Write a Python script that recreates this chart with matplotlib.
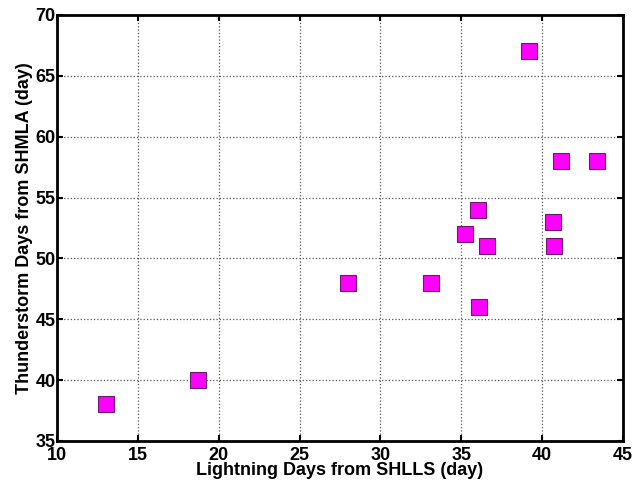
import matplotlib
matplotlib.use("Agg")
import matplotlib.pyplot as plt

# Lightning days (SHLLS) vs thunderstorm days (SHMLA)
lightning_days = [13.0, 18.7, 28.0, 33.1, 35.2, 36.0, 36.1, 36.6, 39.2, 40.65, 40.75, 41.15, 43.4]
thunder_days = [38, 40, 48, 48, 52, 54, 46, 51, 67, 53, 51, 58, 58]

x_ticks = [10, 15, 20, 25, 30, 35, 40, 45]
y_ticks = [35, 40, 45, 50, 55, 60, 65, 70]

plt.rcParams['font.family'] = ['Liberation Sans', 'DejaVu Sans']
plt.rcParams['font.weight'] = 'bold'

fig = plt.figure(figsize=(6.41, 4.83), dpi=100)
ax = fig.add_axes([0.089, 0.087, 0.883, 0.882])

ax.plot(lightning_days, thunder_days, linestyle='none', marker='s', markersize=11,
        markerfacecolor='#ff00ff', markeredgecolor='#6a1a6a', markeredgewidth=0.8, zorder=3)

ax.set_xlim(10, 45)
ax.set_ylim(35, 70)
ax.set_xticks(x_ticks)
ax.set_yticks(y_ticks)
ax.grid(True, linestyle=':', color='#555555', linewidth=0.9)
ax.tick_params(direction='in', length=4, width=1.5, labelsize=13, top=True, right=True,
               labeltop=False, labelright=False, pad=1)
ax.tick_params(axis='x', pad=4)
for lbl in ax.get_xticklabels() + ax.get_yticklabels():
  lbl.set_fontweight('bold')
for s in ax.spines.values():
  s.set_linewidth(2)

ax.set_xlabel('Lightning Days from SHLLS (day)', fontsize=13, fontweight='bold', labelpad=-1)
ax.set_ylabel('Thunderstorm Days from SHMLA (day)', fontsize=13, fontweight='bold', labelpad=2)

fig.savefig('out.png', dpi=100)
